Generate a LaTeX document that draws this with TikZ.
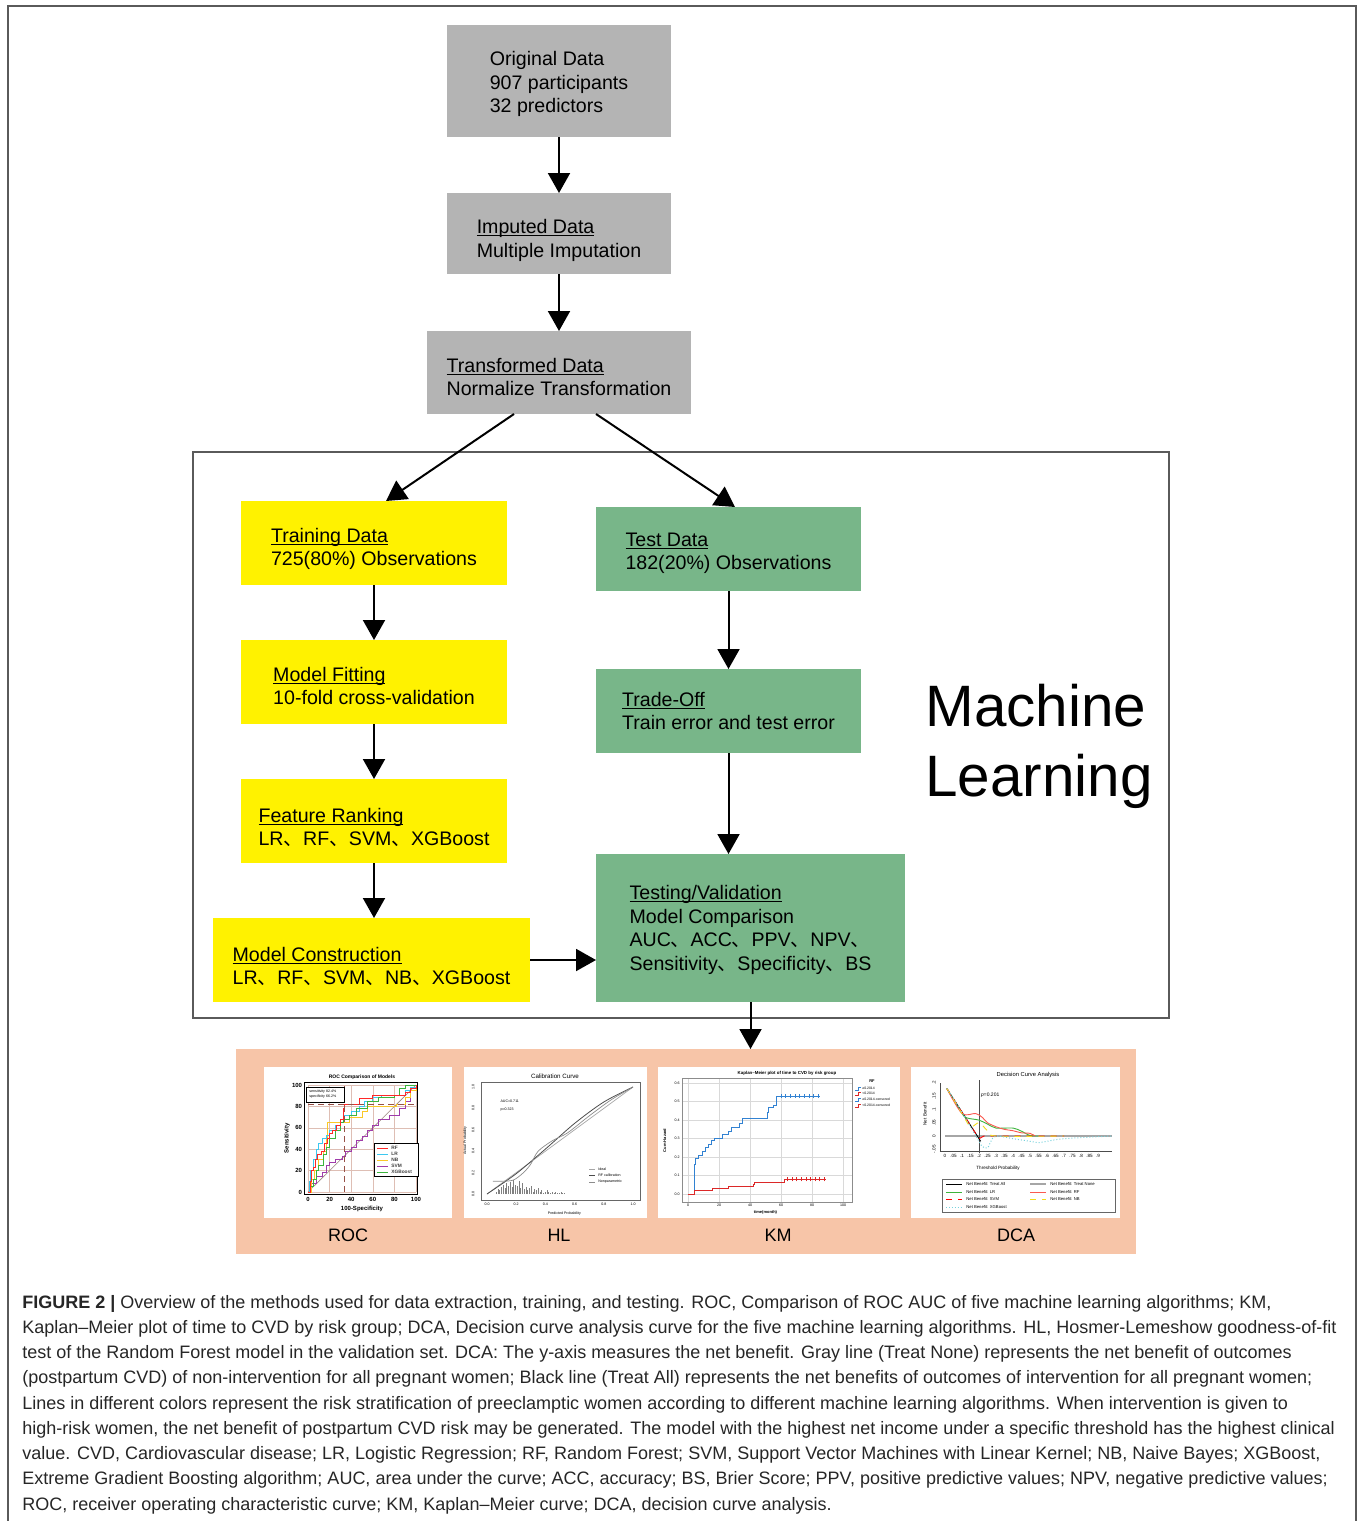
\documentclass[tikz,border=0pt]{standalone}
\usepackage{fontspec}
\setmainfont{Liberation Sans}
\newfontfamily\cjk{Noto Sans CJK SC}
\newfontfamily\capfont{Liberation Sans}
\usetikzlibrary{arrows.meta,positioning}
\definecolor{boxgray}{RGB}{180,180,180}
\definecolor{boxyellow}{RGB}{255,242,0}
\definecolor{boxgreen}{RGB}{120,182,137}
\definecolor{panelpeach}{RGB}{247,197,168}
\definecolor{framegray}{RGB}{90,90,90}
\definecolor{gridpink}{RGB}{222,190,180}
\definecolor{cutbrown}{RGB}{150,80,70}
\definecolor{rocred}{RGB}{255,40,40}
\definecolor{roccyan}{RGB}{60,200,240}
\definecolor{rocyellow}{RGB}{250,200,40}
\definecolor{rocpurple}{RGB}{160,60,170}
\definecolor{rocgreen}{RGB}{60,180,60}
\definecolor{kmblue}{RGB}{50,130,210}
\definecolor{kmred}{RGB}{220,40,40}
\definecolor{dcasalmon}{RGB}{250,90,80}
\definecolor{dcayellow}{RGB}{240,220,30}
\definecolor{dcacyan}{RGB}{120,210,220}
\newcommand{\dun}{{\cjk 、}}
\newcommand{\toppad}[1]{\rule{0pt}{\dimexpr7.2pt+#1pt\relax}}
\newsavebox{\ulsave}
\newcommand{\ulined}[1]{\sbox{\ulsave}{#1}\rlap{\rule[-1.2pt]{\wd\ulsave}{0.5pt}}\usebox{\ulsave}}
\tikzset{flow box/.style={rectangle,align=left,inner sep=0pt,outer sep=0pt,font=\fontsize{9.8}{11.75}\selectfont},
         gray box/.style={flow box,fill=boxgray,minimum width=112pt},
         yellow box/.style={flow box,fill=boxyellow,minimum width=133pt,minimum height=42pt},
         green box/.style={flow box,fill=boxgreen,minimum width=132.5pt,minimum height=42pt},
         flow arrow/.style={-{Triangle[width=11pt,length=10pt]},line width=1pt},
         plot card/.style={rectangle,fill=white,inner sep=0pt,outer sep=0pt},
         tiny text/.style={inner sep=0pt,font=\fontsize{2.2}{2.6}\selectfont},
         roc tick/.style={inner sep=0.6pt,font=\bfseries\fontsize{3}{3.5}\selectfont},
         hl tick/.style={inner sep=0pt,font=\fontsize{1.8}{2}\selectfont},
         dca tick/.style={inner sep=0pt,font=\fontsize{2.3}{2.6}\selectfont},
         panel label/.style={inner sep=0pt,font=\fontsize{9}{10}\selectfont},
         caption line/.style={anchor=base west,inner sep=0pt,font=\capfont\fontsize{9}{10}\selectfont,text=black!85},
         dca all/.style={black},
         dca none/.style={black!35,line width=0.8pt},
         dca lr/.style={rocgreen},
         dca rf/.style={dcasalmon},
         dca svm/.style={red,dashed},
         dca nb/.style={dcayellow,dashed},
         dca xgb/.style={dcacyan,densely dotted}
}

\begin{document}
\begin{tikzpicture}[x=0.5pt,y=-0.5pt]
\useasboundingbox (0,0) rectangle (1360,1521);
\draw[framegray,line width=0.75pt] (8,1521) |- (1356,6) -- (1356,1521);

% data preparation
\node[gray box,minimum height=56pt] (orig) at (559,81) {\toppad{3}Original Data\\907 participants\\32 predictors};
\node[gray box,minimum height=40.5pt,below=28pt of orig] (imput) {\toppad{7}\ulined{Imputed Data}\\Multiple Imputation};
\node[gray box,minimum width=132pt,minimum height=41.5pt,below=28.5pt of imput] (trans) {\toppad{4.5}\ulined{Transformed Data}\\Normalize Transformation};

% machine learning block
\draw[framegray,line width=0.75pt] (193,452) rectangle (1169,1018);
\node[yellow box] (train) at (374,543) {\toppad{6}\ulined{Training Data}\\725(80\%) Observations};
\node[yellow box,below=27.5pt of train] (fit) {\toppad{4}\ulined{Model Fitting}\\10-fold cross-validation};
\node[yellow box,below=27.5pt of fit] (rank) {\toppad{6.5}\ulined{Feature Ranking}\\LR\dun RF\dun SVM\dun XGBoost};
\node[yellow box,minimum width=158.5pt,below=27.5pt of rank,xshift=-1.25pt] (constr) {\toppad{6.5}\ulined{Model Construction}\\LR\dun RF\dun SVM\dun NB\dun XGBoost};
\node[green box] (test) at (728.5,549) {\toppad{4}\ulined{Test Data}\\182(20\%) Observations};
\node[green box,below=39pt of test] (trade) {\ulined{Trade-Off}\\Train error and test error};
\node[green box,minimum width=154.5pt,minimum height=74pt,below=50.5pt of trade.south west,anchor=north west] (testv)
  {\toppad{2}\ulined{Testing/Validation}\\Model Comparison\\AUC\dun ACC\dun PPV\dun NPV\dun\\Sensitivity\dun Specificity\dun BS};
\node[anchor=west,align=left,inner sep=0pt,font=\fontsize{29.2}{35}\selectfont] (ml) at (925,746) {Machine\\Learning};

% result panel
\node[rectangle,fill=panelpeach,minimum width=450pt,minimum height=102.5pt,inner sep=0pt,outer sep=0pt] (panel) at (686,1151.5) {};
\node[plot card,minimum width=94pt,minimum height=75.5pt] (roc) at (358,1142.5) {};
\node[plot card,minimum width=91.5pt,minimum height=75.5pt] (hl) at (555.5,1142.5) {};
\node[plot card,minimum width=121pt,minimum height=75.5pt] (km) at (779,1142.5) {};
\node[plot card,minimum width=104.5pt,minimum height=75.5pt] (dca) at (1015.5,1142.5) {};
\node[panel label] (roclab) at (348,1235) {ROC};
\node[panel label] (hllab) at (559,1235) {HL};
\node[panel label] (kmlab) at (778,1235) {KM};
\node[panel label] (dcalab) at (1016,1235) {DCA};

\draw[flow arrow] (orig) -- (imput);
\draw[flow arrow] (imput) -- (trans);
\draw[flow arrow] ([xshift=-22.5pt]trans.south) -- ([xshift=6pt]train.north);
\draw[flow arrow] ([xshift=18.5pt]trans.south) -- ([xshift=3.25pt]test.north);
\draw[flow arrow] (train) -- (fit);
\draw[flow arrow] (fit) -- (rank);
\draw[flow arrow] (rank) -- (rank.south |- constr.north);
\draw[flow arrow] (test) -- (trade);
\draw[flow arrow] (trade) -- (trade.south |- testv.north);
\draw[flow arrow] (constr.east) -- (constr.east -| testv.west);
\draw[flow arrow] (testv) -- (testv.south |- panel.north);

% ROC plot
\node[tiny text,font=\bfseries\fontsize{2.5}{3}\selectfont] at (362,1077) {ROC Comparison of Models};
\begin{scope}[shift={(308,1192)},xscale=1.08,yscale=-1.07]
  \foreach \t in {0,20,...,100} {
    \draw[gridpink,line width=0.25pt] (\t,0) -- (\t,100) (0,\t) -- (100,\t);
    \node[roc tick,below] at (\t,-3) {\t};
    \node[roc tick,left] at (-4,\t) {\t};
  }
  \draw[gridpink!70!black,line width=0.3pt] (0,0) -- (100,100);
  \draw[rocpurple,line width=0.45pt] plot[const plot] coordinates {(0,0) (3,8) (8,15) (13,18) (17,25) (20,28) (25,30) (32,33) (35,38) (40,42) (45,48) (50,52) (55,58) (60,62) (65,68) (75,72) (85,78) (90,85) (95,95) (100,100)};
  \draw[rocyellow,line width=0.45pt] plot[const plot] coordinates {(0,0) (3,12) (6,20) (10,30) (14,38) (17,50) (18,65) (35,65) (38,70) (45,70) (50,75) (55,80) (82,82) (90,88) (95,95) (100,100)};
  \draw[roccyan,line width=0.45pt] plot[const plot] coordinates {(0,0) (1,10) (2,20) (5,30) (8,40) (10,45) (13,50) (17,53) (20,58) (25,62) (30,68) (33,72) (40,75) (48,80) (52,85) (60,88) (68,90) (90,95) (95,98) (100,100)};
  \draw[rocgreen,line width=0.45pt] plot[const plot] coordinates {(0,0) (2,5) (5,12) (8,20) (10,25) (14,35) (17,42) (20,50) (25,58) (30,65) (33,68) (38,72) (45,78) (55,85) (65,88) (80,90) (85,97) (90,100) (100,100)};
  \draw[rocred,line width=0.45pt] plot[const plot] coordinates {(0,0) (2,10) (3,20) (5,23) (7,30) (9,35) (12,38) (15,45) (18,50) (20,55) (23,58) (26,62) (30,68) (33,78) (34,82) (45,82) (48,87) (57,87) (60,90) (70,90) (90,93) (95,97) (100,100)};
  \draw[cutbrown,densely dashed,line width=0.35pt] (34,0) -- (34,100) (0,82) -- (100,82);
  \draw[line width=0.5pt] (-3,-2) rectangle (101,102);
\end{scope}
\node[roc tick] at (362,1209) {100-Specificity};
\node[roc tick,rotate=90] at (287,1138) {Sensitivity};
\draw[fill=white,line width=0.4pt] (374,1143) rectangle (418,1176);
\foreach \col/\lab [count=\i from 0] in {rocred/RF,roccyan/LR,rocyellow/NB,rocpurple/SVM,rocgreen/XGBoost} {
  \draw[\col,line width=0.5pt] (377,{1148+6*\i}) -- (388,{1148+6*\i});
  \node[tiny text,anchor=west,font=\bfseries\fontsize{2.4}{3}\selectfont,text=black!75] at (391,{1148+6*\i}) {\lab};
}
\draw[fill=white,line width=0.4pt] (306,1087) rectangle (344,1102);
\node[tiny text,anchor=west,font=\fontsize{1.8}{2}\selectfont] at (309,1092) {sensitivity 82.4\%};
\node[tiny text,anchor=west,font=\fontsize{1.8}{2}\selectfont] at (309,1097) {specificity 66.2\%};

% HL plot
\node[tiny text,font=\fontsize{3.1}{3.5}\selectfont] at (555,1076) {Calibration Curve};
\begin{scope}[shift={(487,1194)},xscale=146,yscale=-107]
  \draw[black!60,line width=0.3pt] (-0.04,-0.055) rectangle (1.05,1.04);
  \foreach \t in {0.0,0.2,0.4,0.6,0.8,1.0} {
    \node[hl tick] at (\t,-0.095) {\t};
    \node[hl tick,rotate=90] at (-0.095,\t) {\t};
  }
  \foreach \h [count=\i] in {2,4,3,6,8,5,9,7,10,6,12,8,7,11,5,9,4,6,3,5,7,2,4,3,5,2,3,1,2,3,2,1,2,1,2,1,1,2,1,1}
    \draw[black!50,line width=0.3pt] ({0.05+0.012*\i},0) -- ++(0,{\h*0.011});
  \draw[black!35,line width=0.35pt] (0,0) -- (1,1);
  \draw[black!70,line width=0.4pt] plot[smooth] coordinates {(0,0) (0.2,0.19) (0.4,0.42) (0.6,0.66) (0.8,0.86) (1,1)};
  \draw[black!45,line width=0.35pt] plot[smooth] coordinates {(0.04,0.12) (0.1,0.12) (0.18,0.13) (0.25,0.2) (0.3,0.28) (0.35,0.4) (0.45,0.5) (0.55,0.57) (0.7,0.73) (0.85,0.88) (1,1)};
  \node[hl tick,anchor=west] at (0.09,0.87) {AUC=0.711};
  \node[hl tick,anchor=west] at (0.09,0.79) {p=0.323};
  \foreach \g/\lab [count=\i from 0] in {35/Ideal,70/RF calibration,45/Nonparametric} {
    \draw[black!\g,line width=0.35pt] (0.70,{0.234-0.061*\i}) -- (0.74,{0.234-0.061*\i});
    \node[hl tick,anchor=west] at (0.76,{0.234-0.061*\i}) {\lab};
  }
  \node[hl tick] at (0.53,-0.18) {Predicted Probability};
  \node[hl tick,rotate=90] at (-0.15,0.5) {Actual Probability};
\end{scope}

% KM plot
\node[tiny text,font=\bfseries\fontsize{2.2}{3}\selectfont] at (787,1073) {Kaplan–Meier plot of time to CVD by risk group};
\begin{scope}[shift={(688,1194)},xscale=1.55,yscale=-185]
  \foreach \t in {0,1,...,6} {
    \draw[black!15,line width=0.3pt] (-3.9,{\t/10}) -- (105.8,{\t/10});
    \node[hl tick] at (-7,{\t/10}) {0.\t};
  }
  \foreach \t in {0,20,...,100} {
    \draw[black!15,line width=0.3pt] (\t,-0.043) -- (\t,0.627);
    \node[hl tick] at (\t,-0.06) {\t};
  }
  \draw[black!45,line width=0.3pt] (-3.9,-0.043) rectangle (105.8,0.627);
  \draw[kmblue,line width=0.45pt] plot[const plot] coordinates {(0,0) (4,0.16) (5,0.19) (7,0.21) (9,0.23) (11,0.25) (13,0.27) (15,0.29) (17,0.30) (22,0.32) (26,0.34) (28,0.36) (33,0.38) (35,0.41) (50,0.41) (51,0.44) (52,0.47) (55,0.48) (57,0.53) (85,0.53)};
  \draw[kmred,line width=0.45pt] plot[const plot] coordinates {(0,0) (4,0.02) (16,0.03) (26,0.04) (42,0.05) (43,0.06) (62,0.08) (89,0.08)};
  \foreach \t in {60,63,...,84} \draw[kmblue,line width=0.3pt] (\t,0.518) -- (\t,0.542);
  \foreach \t in {64,67,...,88} \draw[kmred,line width=0.3pt] (\t,0.068) -- (\t,0.092);
  \node[hl tick,font=\bfseries\fontsize{2}{2.4}\selectfont] at (50,-0.1) {time(month)};
  \node[hl tick,font=\bfseries\fontsize{2}{2.4}\selectfont,rotate=90] at (-15,0.29) {Cum Hazard};
\end{scope}
\node[tiny text,font=\bfseries\fontsize{2}{2.4}\selectfont] at (872,1081) {RF};
\foreach \col/\lab [count=\i from 0] in {kmblue/≥0.2014,kmred/<0.2014,kmblue/≥0.2014-censored,kmred/<0.2014-censored} {
  \draw[\col,line width=0.45pt] (855,{1090+5.7*\i}) -- (858,{1090+5.7*\i}) -- (858,{1087+5.7*\i}) -- (861,{1087+5.7*\i});
  \node[tiny text,anchor=west,font=\fontsize{1.7}{2}\selectfont] at (862,{1088+5.7*\i}) {\lab};
}

% DCA plot
\node[tiny text,font=\fontsize{2.9}{3.3}\selectfont] at (1028,1075) {Decision Curve Analysis};
\begin{scope}[shift={(945,1136)},xscale=170,yscale=-265]
  \draw[black!70,line width=0.3pt] (-0.03,-0.057) -- (-0.03,0.2);
  \draw[black!70,line width=0.3pt] (-0.03,-0.057) -- (0.98,-0.057);
  \foreach \lab [count=\i from 0] in {0,.05,.1,.15,.2,.25,.3,.35,.4,.45,.5,.55,.6,.65,.7,.75,.8,.85,.9}
    \node[dca tick] at ({0.05*\i},-0.076) {\lab};
  \foreach \lab [count=\i from 0] in {-.05,0,.05,.1,.15,.2}
    \node[dca tick,rotate=90] at (-0.065,{0.05*\i-0.05}) {\lab};
  \draw[black!35,line width=1pt] (0,0) -- (0.98,0);
  \draw[black!70,line width=0.4pt] (0.2,-0.065) -- (0.2,0.21);
  \draw[black,line width=0.45pt] (0.01,0.18) -- (0.21,-0.02);
  \draw[rocgreen,line width=0.45pt] plot[smooth] coordinates {(0.01,0.18) (0.1,0.085) (0.13,0.068) (0.2,0.06) (0.25,0.045) (0.3,0.03) (0.4,0.03) (0.45,0.018) (0.5,0.002) (0.55,0)};
  \draw[dcasalmon,line width=0.45pt] plot[smooth] coordinates {(0.01,0.18) (0.1,0.085) (0.18,0.085) (0.22,0.07) (0.25,0.05) (0.3,0.035) (0.35,0.025) (0.4,0.02) (0.45,0.012) (0.5,0.01) (0.53,0)};
  \draw[red,dashed,line width=0.45pt] (0.01,0.18) -- (0.2,-0.01) -- (0.23,0) -- (0.7,0);
  \draw[dcayellow,dashed,line width=0.45pt] plot[smooth] coordinates {(0.01,0.18) (0.1,0.085) (0.15,0.035) (0.2,0.05) (0.25,0.02) (0.3,0.0) (0.7,0)};
  \draw[dcacyan,densely dotted,line width=0.5pt] plot[smooth] coordinates {(0.01,0.18) (0.1,0.09) (0.2,-0.02) (0.22,-0.04) (0.25,-0.045) (0.27,-0.02) (0.3,0) (0.4,-0.01) (0.5,-0.02) (0.55,-0.025) (0.6,-0.02) (0.7,-0.01) (0.98,0)};
  \node[dca tick,anchor=west,font=\fontsize{2.5}{2.8}\selectfont] at (0.21,0.155) {\textit{p}=0.201};
\end{scope}
\node[tiny text,font=\fontsize{2.3}{2.7}\selectfont] at (998,1168) {Threshold Probability};
\node[tiny text,font=\fontsize{2.3}{2.7}\selectfont,rotate=90] at (925,1114) {Net Benefit};
\draw[black!60,line width=0.3pt] (942,1179) rectangle (1115,1212);
\foreach \sty/\lab/\x/\y in {dca all/Treat All/946/1184,dca none/Treat None/1030/1184,
                            dca lr/LR/946/1192,dca rf/RF/1030/1192,
                            dca svm/SVM/946/1199,dca nb/NB/1030/1199,
                            dca xgb/XGBoost/946/1207} {
  \draw[line width=0.45pt,\sty] (\x,\y) -- ++(16,0);
  \node[tiny text,anchor=west,font=\fontsize{2.1}{2.5}\selectfont] at ({\x+20},\y) {Net Benefit: \lab};
}

% caption
\foreach \capline [count=\i from 0] in {
  {{\bfseries FIGURE 2 |} Overview of the methods used for data extraction, training, and testing. ROC, Comparison of ROC AUC of five machine learning algorithms; KM,},
  {Kaplan–Meier plot of time to CVD by risk group; DCA, Decision curve analysis curve for the five machine learning algorithms. HL, Hosmer-Lemeshow goodness-of-fit},
  {test of the Random Forest model in the validation set. DCA: The y-axis measures the net benefit. Gray line (Treat None) represents the net benefit of outcomes},
  {(postpartum CVD) of non-intervention for all pregnant women; Black line (Treat All) represents the net benefits of outcomes of intervention for all pregnant women;},
  {Lines in different colors represent the risk stratification of preeclamptic women according to different machine learning algorithms. When intervention is given to},
  {high-risk women, the net benefit of postpartum CVD risk may be generated. The model with the highest net income under a specific threshold has the highest clinical},
  {value. CVD, Cardiovascular disease; LR, Logistic Regression; RF, Random Forest; SVM, Support Vector Machines with Linear Kernel; NB, Naive Bayes; XGBoost,},
  {Extreme Gradient Boosting algorithm; AUC, area under the curve; ACC, accuracy; BS, Brier Score; PPV, positive predictive values; NPV, negative predictive values;},
  {ROC, receiver operating characteristic curve; KM, Kaplan–Meier curve; DCA, decision curve analysis.}}
  \node[caption line] (cap\i) at (22,{1308+25.25*\i}) {\capline};
\end{tikzpicture}
\end{document}
